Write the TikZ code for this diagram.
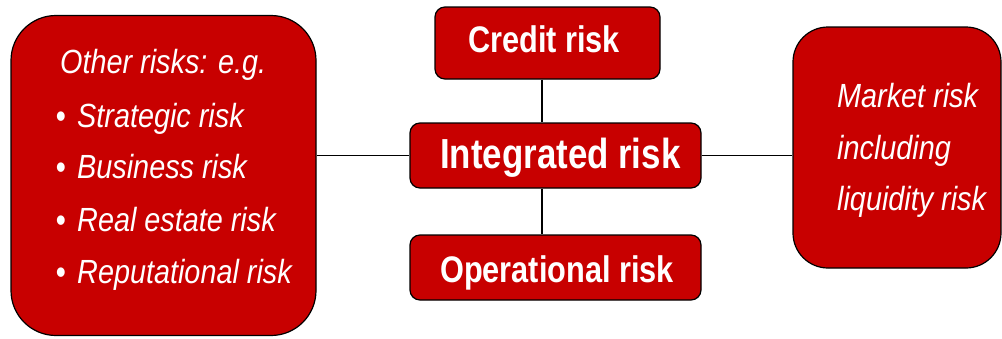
\documentclass[tikz,border=0pt]{standalone}
\usepackage{fontspec}
\newfontfamily\nf[FakeStretch=0.83]{Liberation Sans}
\newfontfamily\nfi[FakeStretch=0.86]{Liberation Sans}
\definecolor{boxred}{RGB}{200,0,0}
\begin{document}
\begin{tikzpicture}[x=1pt,y=-1pt,
  box/.style={draw=black,fill=boxred,line width=1.2pt,rounded corners=#1,inner sep=0pt},
  box/.default=10pt,
  lnk/.style={draw=black,line width=1.2pt},
  ital/.style={anchor=base west,inner sep=0pt,text=white,font=\nfi\itshape\fontsize{33.5}{40}\selectfont},
  bul/.style={anchor=base west,inner sep=0pt,text=white,font=\nf\bfseries\fontsize{33}{40}\selectfont},
  bold/.style={anchor=base west,inner sep=0pt,text=white,font=\nf\bfseries\fontsize{#1}{44}\selectfont}]
\useasboundingbox (0,0) rectangle (1002,338);
% boxes
\node[box=45pt,minimum width=305pt,minimum height=320pt] (oth) at (163.5,175.5) {};
\node[box=10pt,minimum width=225pt,minimum height=72pt] (cr) at (547.5,43) {};
\node[box=10pt,minimum width=291pt,minimum height=65pt] (ir) at (555.5,155.5) {};
\node[box=10pt,minimum width=291pt,minimum height=65pt] (op) at (555.5,267.5) {};
\node[box=35pt,minimum width=208pt,minimum height=241pt] (mk) at (897,147.5) {};
% connectors
\coordinate (vx) at (542,0);
\draw[lnk] (oth.east |- ir.west) -- (ir.west);
\draw[lnk] (ir.east) -- (mk.west |- ir.east);
\draw[lnk] (vx |- cr.south) -- (vx |- ir.north);
\draw[lnk] (vx |- ir.south) -- (vx |- op.north);
% central texts
\node[bold=37] (crt) at (468,52) {Credit risk};
\node[bold=42] (irt) at (440,168) {Integrated risk};
\node[bold=37] (opt) at (440,282) {Operational risk};
% left texts
\node[ital] (o0) at (60,73) {Other risks: e.g.};
\foreach \y/\t [count=\i] in {127/Strategic risk,178/Business risk,231/Real estate risk,283/Reputational risk}{
  \node[bul] (b\i) at (56,\y) {•};
  \node[ital] (o\i) at (77,\y) {\t};
}
% right texts
\node[ital] (m1) at (837,107) {Market risk};
\node[ital] (m2) at (837,159) {including};
\node[ital] (m3) at (837,210) {liquidity risk};
\end{tikzpicture}
\end{document}
